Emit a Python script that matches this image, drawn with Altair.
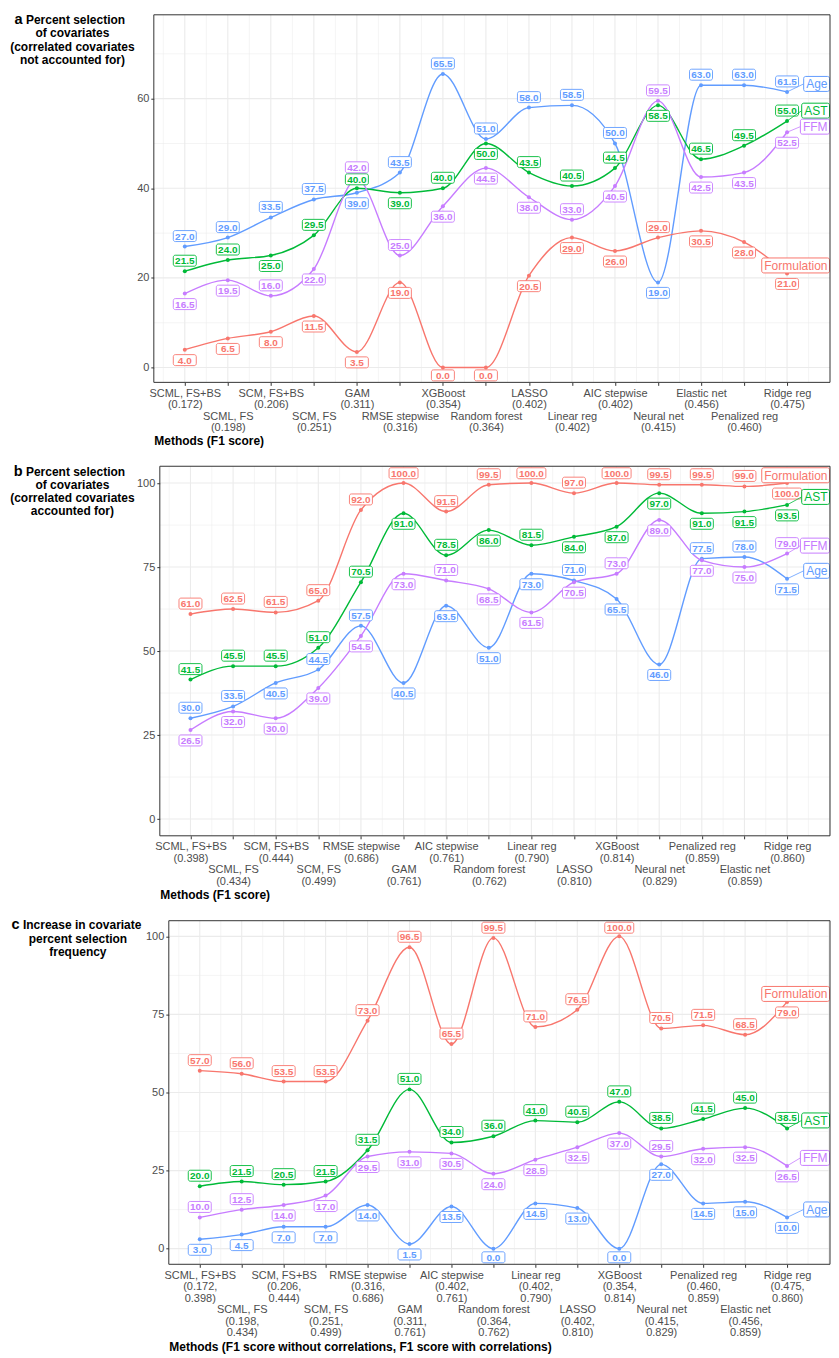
import json
import altair as alt
import pandas as pd

SERIES = ["Age", "AST", "FFM", "Formulation"]
COLORS = ["#619CFF", "#00BA38", "#C77CFF", "#F8766D"]

# ---------------- panel a ----------------
a_methods = ["SCML, FS+BS", "SCML, FS", "SCM, FS+BS", "SCM, FS", "GAM", "RMSE stepwise",
             "XGBoost", "Random forest", "LASSO", "Linear reg", "AIC stepwise", "Neural net",
             "Elastic net", "Penalized reg", "Ridge reg"]
a_f1 = ["0.172", "0.198", "0.206", "0.251", "0.311", "0.316", "0.354", "0.364", "0.402",
        "0.402", "0.402", "0.415", "0.456", "0.460", "0.475"]
a_age = [27.0, 29.0, 33.5, 37.5, 39.0, 43.5, 65.5, 51.0, 58.0, 58.5, 50.0, 19.0, 63.0, 63.0, 61.5]
a_ast = [21.5, 24.0, 25.0, 29.5, 40.0, 39.0, 40.0, 50.0, 43.5, 40.5, 44.5, 58.5, 46.5, 49.5, 55.0]
a_ffm = [16.5, 19.5, 16.0, 22.0, 42.0, 25.0, 36.0, 44.5, 38.0, 33.0, 40.5, 59.5, 42.5, 43.5, 52.5]
a_form = [4.0, 6.5, 8.0, 11.5, 3.5, 19.0, 0.0, 0.0, 20.5, 29.0, 26.0, 29.0, 30.5, 28.0, 21.0]

# ---------------- panel b ----------------
b_methods = ["SCML, FS+BS", "SCML, FS", "SCM, FS+BS", "SCM, FS", "RMSE stepwise", "GAM",
             "AIC stepwise", "Random forest", "Linear reg", "LASSO", "XGBoost", "Neural net",
             "Penalized reg", "Elastic net", "Ridge reg"]
b_f1 = ["0.398", "0.434", "0.444", "0.499", "0.686", "0.761", "0.761", "0.762", "0.790",
        "0.810", "0.814", "0.829", "0.859", "0.859", "0.860"]
b_age = [30.0, 33.5, 40.5, 44.5, 57.5, 40.5, 63.5, 51.0, 73.0, 71.0, 65.5, 46.0, 77.5, 78.0, 71.5]
b_ast = [41.5, 45.5, 45.5, 51.0, 70.5, 91.0, 78.5, 86.0, 81.5, 84.0, 87.0, 97.0, 91.0, 91.5, 93.5]
b_ffm = [26.5, 32.0, 30.0, 39.0, 54.5, 73.0, 71.0, 68.5, 61.5, 70.5, 73.0, 89.0, 77.0, 75.0, 79.0]
b_form = [61.0, 62.5, 61.5, 65.0, 92.0, 100.0, 91.5, 99.5, 100.0, 97.0, 100.0, 99.5, 99.5, 99.0, 100.0]

# ---------------- panel c ----------------
c_methods = b_methods
c_f1_without = ["0.172", "0.198", "0.206", "0.251", "0.316", "0.311", "0.402", "0.364", "0.402",
                "0.402", "0.354", "0.415", "0.460", "0.456", "0.475"]
c_f1_with = b_f1
c_age = [3.0, 4.5, 7.0, 7.0, 14.0, 1.5, 13.5, 0.0, 14.5, 13.0, 0.0, 27.0, 14.5, 15.0, 10.0]
c_ast = [20.0, 21.5, 20.5, 21.5, 31.5, 51.0, 34.0, 36.0, 41.0, 40.5, 47.0, 38.5, 41.5, 45.0, 38.5]
c_ffm = [10.0, 12.5, 14.0, 17.0, 29.5, 31.0, 30.5, 24.0, 28.5, 32.5, 37.0, 29.5, 32.0, 32.5, 26.5]
c_form = [57.0, 56.0, 53.5, 53.5, 73.0, 96.5, 65.5, 99.5, 71.0, 76.5, 100.0, 70.5, 71.5, 68.5, 79.0]

FONT = "Liberation Sans"
GRID = "#EBEBEB"
FRAME = "#333333"
ORIGIN = 154          # page x of the common plot origin
LH_TICK = 11.5        # line height of tick labels

AR_REG = {"A": 667, "g": 556, "e": 556, "S": 667, "T": 611, "F": 611, "M": 833, "o": 556,
          "r": 333, "m": 833, "u": 556, "l": 222, "a": 556, "t": 278, "i": 222, "n": 556}


def text_w(s, size):
    return sum(AR_REG.get(ch, 556) for ch in s) * size / 1000.0


def end_labels(vals, ydom, H, W, d0, sp, lift=8, gap=16):
    y0, y1 = ydom
    ppu = H / (y1 - y0)
    des = sorted([[s, (y1 - vals[s][-1]) * ppu - lift] for s in SERIES], key=lambda t: t[1])
    for _ in range(200):
        moved = False
        for k in range(1, len(des)):
            g = des[k][1] - des[k - 1][1]
            if g < gap - 1e-6:
                push = (gap - g) / 2
                des[k - 1][1] -= push
                des[k][1] += push
                moved = True
        for t in des:
            t[1] = min(max(t[1], 9), H - 9)
        if not moved:
            break
    n = len(vals[SERIES[0]])
    to_x = lambda px: d0 + px / sp
    pt_px = (n - d0) * sp
    right_px = W - 2.5
    rows, boxes = [], []
    for s, py in des:
        tw = text_w(s, 12)
        bl = right_px - tw - 2.5
        br = right_px + 2.0
        rows.append(dict(series=s, x=n, y=vals[s][-1], ey=y1 - py / ppu,
                         tx=to_x(right_px), bl=to_x(bl), br=to_x(br), seg=bl > pt_px + 4))
        boxes.append((bl, br, py))
    return pd.DataFrame(rows), boxes


def value_labels(vals, ydom, H, d0, sp, boxes, off=10.5, lh=12.0):
    y0, y1 = ydom
    ppu = H / (y1 - y0)
    out = {}
    n = len(vals[SERIES[0]])

    def hits_end(xpx, ypx, half_w):
        for (bl, br, cy) in boxes:
            if xpx + half_w > bl and xpx - half_w < br and abs(ypx - cy) < 13.5:
                return True
        return False

    for i in range(n):
        xpx = (i + 1 - d0) * sp
        items = sorted([(s, (y1 - vals[s][i]) * ppu) for s in SERIES], key=lambda t: t[1])
        des = []
        for k, (s, py) in enumerate(items):
            if k == 0:
                d = -1
            elif k == len(items) - 1:
                d = 1
            else:
                up = py - items[k - 1][1]
                down = items[k + 1][1] - py
                d = -1 if up > down else 1
            hw = 14.5 if vals[s][i] >= 100 else 11.5
            if hits_end(xpx, py + d * off, hw) and not hits_end(xpx, py - d * off, hw):
                d = -d
            des.append([s, py + d * off])
        des.sort(key=lambda t: t[1])
        for _ in range(200):
            moved = False
            for k in range(1, len(des)):
                gap = des[k][1] - des[k - 1][1]
                if gap < lh - 1e-6:
                    push = (lh - gap) / 2
                    des[k - 1][1] -= push
                    des[k][1] += push
                    moved = True
            for t in des:
                t[1] = min(max(t[1], 7), H - 7)
            if not moved:
                break
        for s, py in des:
            out[(s, i)] = y1 - py / ppu
    return out


def title_text(text, rx, ry, size, align="center"):
    return alt.Chart(pd.DataFrame({"t": [0]})).mark_text(
        text=text, font=FONT, fontSize=size, fontWeight="bold", color="black",
        align=align, baseline="middle"
    ).encode(x=alt.value(rx), y=alt.value(ry))


def build_panel(tick_lines, vals, ydom, ymajor, yminor, W, H, inset, first_px, last_px,
                xtitle, titles, row2_offset, title_pad):
    n = len(tick_lines)
    sp = (last_px - first_px) / (n - 1)
    d0 = 1 - first_px / sp
    d1 = d0 + W / sp
    xs = alt.Scale(domain=[d0, d1], nice=False, zero=False)
    ys = alt.Scale(domain=ydom, nice=False, zero=False)
    cscale = alt.Scale(domain=SERIES, range=COLORS)

    ends, boxes = end_labels(vals, ydom, H, W, d0, sp)
    lab_pos = value_labels(vals, ydom, H, d0, sp, boxes)
    rows = []
    for s in SERIES:
        for i, v in enumerate(vals[s]):
            lab = f"{v:.1f}"
            rows.append(dict(x=i + 1, y=v, series=s, lab=lab, ly=lab_pos[(s, i)],
                             wide=len(lab) > 4))
    df = pd.DataFrame(rows)

    rowA = [lines if i % 2 == 0 else "" for i, lines in enumerate(tick_lines)]
    rowB = [lines if i % 2 == 1 else "" for i, lines in enumerate(tick_lines)]
    exprA = json.dumps(rowA, ensure_ascii=False) + "[round(datum.value) - 1]"
    exprB = json.dumps(rowB, ensure_ascii=False) + "[round(datum.value) - 1]"

    common = dict(grid=False, domain=False, labelColor="#4D4D4D", labelFontSize=11,
                  labelFont=FONT, labelLineHeight=LH_TICK, labelOverlap=False,
                  labelFlush=False, labelBaseline="top", orient="bottom")
    axisA = alt.Axis(values=list(range(1, n + 1)), labelExpr=exprA, tickColor=FRAME,
                     tickSize=3, labelPadding=2, title=None, **common)
    axisB = alt.Axis(values=list(range(2, n + 1, 2)), labelExpr=exprB, ticks=False, tickSize=0,
                     labelPadding=2, offset=row2_offset, title=xtitle, titleX=inset,
                     titleAnchor="start", titleAlign="left", titleBaseline="top",
                     titleFontSize=12, titleFontWeight="bold", titleFont=FONT,
                     titleColor="black", titlePadding=title_pad, **common)
    yaxis = alt.Axis(values=ymajor, grid=False, domain=False, tickColor=FRAME, tickSize=3,
                     labelColor="#4D4D4D", labelFontSize=11, labelFont=FONT, labelPadding=2,
                     offset=-inset, title=None)

    def X(f, axis=None):
        return alt.X(f, scale=xs, axis=axis)

    def Y(f):
        return alt.Y(f, scale=ys, axis=yaxis)

    def inside(v):
        return inset + 0.5 <= (v - d0) * sp <= W

    xmajor = [float(k) for k in range(0, 18) if inside(k)]
    xminor = [k + 0.5 for k in range(-1, 18) if inside(k + 0.5)]

    g1 = alt.Chart(pd.DataFrame({"x": xminor})).mark_rule(color=GRID, strokeWidth=0.55).encode(
        x=X("x:Q"))
    g2 = alt.Chart(pd.DataFrame({"x": xmajor})).mark_rule(color=GRID, strokeWidth=1.1).encode(
        x=X("x:Q"))
    g3 = alt.Chart(pd.DataFrame({"y": yminor})).mark_rule(color=GRID, strokeWidth=0.55).encode(
        y=Y("y:Q"), x=alt.value(inset), x2=alt.value(W))
    g4 = alt.Chart(pd.DataFrame({"y": ymajor})).mark_rule(color=GRID, strokeWidth=1.1).encode(
        y=Y("y:Q"), x=alt.value(inset), x2=alt.value(W))

    base = alt.Chart(df)
    color = alt.Color("series:N", scale=cscale, legend=None)
    stroke = alt.Stroke("series:N", scale=cscale, legend=None)
    lines = base.mark_line(interpolate="monotone", strokeWidth=1.4).encode(
        x=X("x:Q", axisA), y=Y("y:Q"), color=color)
    pts = base.mark_circle(size=16, opacity=1).encode(x=X("x:Q", axisB), y=Y("y:Q"), color=color)
    box4 = base.transform_filter("!datum.wide").mark_rect(
        width=23, height=11, fill="white", strokeWidth=0.9, cornerRadius=2).encode(
        x=X("x:Q"), y=Y("ly:Q"), stroke=stroke)
    box5 = base.transform_filter("datum.wide").mark_rect(
        width=29, height=11, fill="white", strokeWidth=0.9, cornerRadius=2).encode(
        x=X("x:Q"), y=Y("ly:Q"), stroke=stroke)
    txt = base.mark_text(font=FONT, fontSize=10, fontWeight="bold", baseline="middle",
                         align="center", dy=0.5).encode(
        x=X("x:Q"), y=Y("ly:Q"), text="lab:N", color=color)

    eb = alt.Chart(ends)
    seg = eb.transform_filter("datum.seg").mark_rule(strokeWidth=0.8).encode(
        x=X("x:Q"), y=Y("y:Q"), x2="bl:Q", y2="ey:Q", color=color)
    ebox = eb.mark_rect(height=15, fill="white", strokeWidth=1, cornerRadius=2).encode(
        x=X("bl:Q"), x2="br:Q", y=Y("ey:Q"), stroke=stroke)
    etxt = eb.mark_text(font=FONT, fontSize=12, align="right", baseline="middle", dy=0.5).encode(
        x=X("tx:Q"), y=Y("ey:Q"), text="series:N", color=color)

    frame = alt.Chart(pd.DataFrame({"t": [0]})).mark_rect(
        fillOpacity=0, stroke=FRAME, strokeWidth=1).encode(
        x=alt.value(inset), x2=alt.value(W), y=alt.value(0), y2=alt.value(H))

    marker = alt.Chart(pd.DataFrame({"t": [0]})).mark_rule(stroke="white", strokeOpacity=0).encode(
        x=alt.value(8 - ORIGIN), x2=alt.value(8 - ORIGIN), y=alt.value(0), y2=alt.value(1))

    tlayers = [title_text(t, rx - ORIGIN, ry, size, align) for (t, rx, ry, size, align) in titles]

    return alt.layer(g1, g2, g3, g4, lines, pts, box4, box5, txt, seg, ebox, etxt, frame,
                     marker, *tlayers).resolve_axis(x="independent").properties(width=W, height=H)


a_ticks = [[m, f"({f})"] for m, f in zip(a_methods, a_f1)]
b_ticks = [[m, f"({f})"] for m, f in zip(b_methods, b_f1)]
c_ticks = [[m, f"({f1},", f"{f2})"] for m, f1, f2 in zip(c_methods, c_f1_without, c_f1_with)]

LH = 13.3
a_titles = [("a", 22.5, 5.3, 14.5, "right"), ("Percent selection", 26, 5.3, 12, "left"),
            ("of covariates", 72.5, 5.3 + LH, 12, "center"),
            ("(correlated covariates", 72.5, 5.3 + 2 * LH, 12, "center"),
            ("not accounted for)", 72.5, 5.3 + 3 * LH, 12, "center")]
b_titles = [("b", 22.5, 5.3, 14.5, "right"), ("Percent selection", 26, 5.3, 12, "left"),
            ("of covariates", 72.5, 5.3 + LH, 12, "center"),
            ("(correlated covariates", 72.5, 5.3 + 2 * LH, 12, "center"),
            ("accounted for)", 72.5, 5.3 + 3 * LH, 12, "center")]
c_titles = [("c", 19.5, 4.6, 14.5, "right"), ("Increase in covariate", 23, 4.6, 12, "left"),
            ("percent selection", 78, 4.6 + LH, 12, "center"),
            ("frequency", 78, 4.6 + 2 * LH, 12, "center")]

W = 677
pa = build_panel(a_ticks, {"Age": a_age, "AST": a_ast, "FFM": a_ffm, "Formulation": a_form},
                 [-3.3, 78.7], [0, 20, 40, 60], [10, 30, 50, 70], W, 368, 0, 31, 634,
                 "Methods (F1 score)", a_titles, 26, 3)
pb = build_panel(b_ticks, {"Age": b_age, "AST": b_ast, "FFM": b_ffm, "Formulation": b_form},
                 [-5, 105], [0, 25, 50, 75, 100], [12.5, 37.5, 62.5, 87.5], W, 370, 6, 36.7, 634,
                 "Methods (F1 score)", b_titles, 26, 3)
pc = build_panel(c_ticks, {"Age": c_age, "AST": c_ast, "FFM": c_ffm, "Formulation": c_form},
                 [-5, 105], [0, 25, 50, 75, 100], [12.5, 37.5, 62.5, 87.5], W, 344, 15, 46, 634,
                 "Methods (F1 score without correlations, F1 score with correlations)", c_titles,
                 37.5, 4)

chart = alt.vconcat(pa, pb, pc, spacing=16).properties(
    padding={"left": 0, "top": 3, "right": 0, "bottom": 0}
).configure_view(stroke=None)

chart.save("out.html", embed_options={"renderer": "svg", "actions": False})
